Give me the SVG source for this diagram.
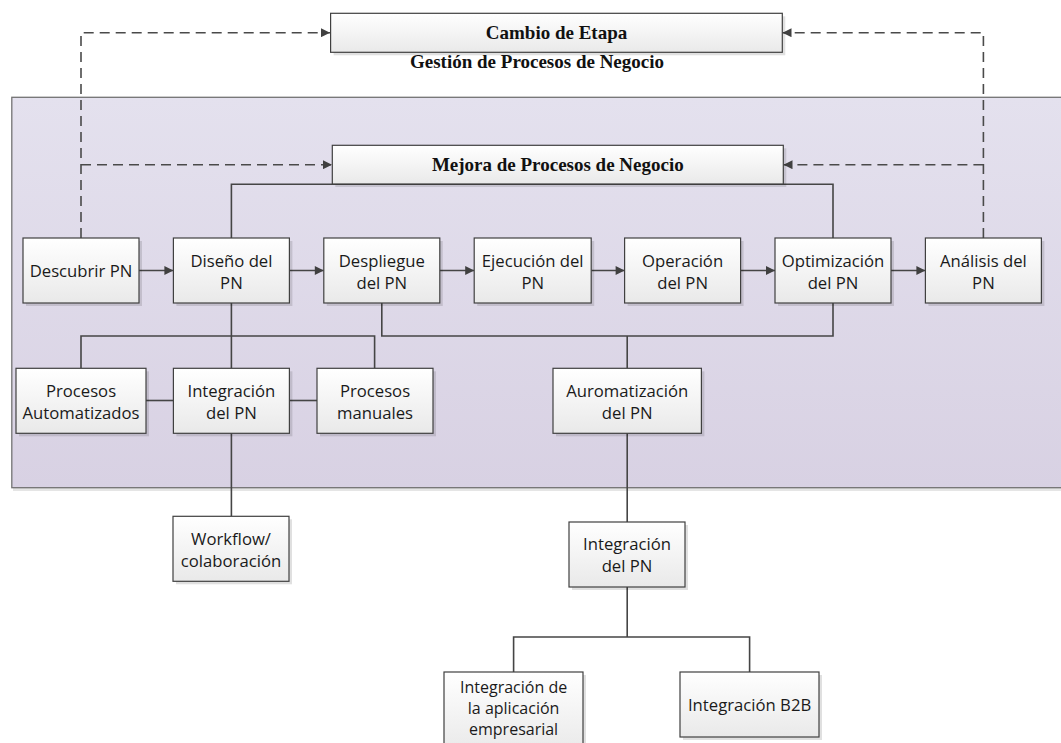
<svg xmlns="http://www.w3.org/2000/svg" width="1061" height="743" viewBox="0 0 1061 743">
  <style>
    .box { fill: url(#boxFill); stroke: #404040; stroke-width: 1.2; }
    .shadow { fill: #000000; fill-opacity: 0.12; }
    .lbl { font-family: "Open Sans", "Liberation Sans", sans-serif; font-size: 16.7px; fill: #1a1a1a; text-anchor: middle; }
    .lbl3 { font-size: 16px; }
    .title { font-family: "Liberation Serif", "Times New Roman", serif; font-size: 19px; font-weight: bold; fill: #111111; text-anchor: middle; }
    .link { fill: none; stroke: #454545; stroke-width: 1.6; }
    .dash { fill: none; stroke: #4a4a4a; stroke-width: 1.6; stroke-dasharray: 10 6; }
  </style>
  <defs>
    <linearGradient id="boxFill" x1="0" y1="0" x2="0" y2="1">
      <stop offset="0" stop-color="#ffffff"/>
      <stop offset="1" stop-color="#e9e9e9"/>
    </linearGradient>
    <linearGradient id="panelFill" x1="0" y1="0" x2="0" y2="1">
      <stop offset="0" stop-color="#e4e1ee"/>
      <stop offset="1" stop-color="#d8d1e3"/>
    </linearGradient>
    <marker id="arrow" viewBox="0 0 10 10" refX="10" refY="5" markerWidth="10" markerHeight="9" markerUnits="userSpaceOnUse" orient="auto">
      <path d="M0,0 L10,5 L0,10 Z" fill="#404040"/>
    </marker>
  </defs>

  <!-- background -->
  <rect x="0" y="0" width="1061" height="743" fill="#ffffff"/>

  <!-- business process management panel -->
  <g id="panel">
    <rect x="13" y="100" width="1060" height="391" fill="#000000" fill-opacity="0.1"/>
    <rect x="11.8" y="97.3" width="1060" height="390.4" fill="url(#panelFill)" stroke="#737373" stroke-width="1.3"/>
  </g>

  <!-- connectors -->
  <g id="connectors">
    <!-- stage change / improvement feedback (dashed) -->
    <path class="dash" d="M81,238 V32.7 H330" marker-end="url(#arrow)"/>
    <path class="dash" d="M81,164.7 H332" marker-end="url(#arrow)"/>
    <path class="dash" d="M983.4,238 V32.7 H782.5" marker-end="url(#arrow)"/>
    <path class="dash" d="M983.4,164.7 H783.5" marker-end="url(#arrow)"/>

    <!-- design / optimisation frame -->
    <path class="link" d="M231.4,238 V184.3 H833 V238"/>

    <!-- main flow -->
    <path class="link" d="M139,270.5 H173.4" marker-end="url(#arrow)"/>
    <path class="link" d="M289.4,270.5 H323.8" marker-end="url(#arrow)"/>
    <path class="link" d="M439.8,270.5 H474.2" marker-end="url(#arrow)"/>
    <path class="link" d="M591.2,270.5 H624.6" marker-end="url(#arrow)"/>
    <path class="link" d="M740.6,270.5 H775" marker-end="url(#arrow)"/>
    <path class="link" d="M891,270.5 H925.4" marker-end="url(#arrow)"/>

    <!-- design branch -->
    <path class="link" d="M231.4,303 V368"/>
    <path class="link" d="M81,368 V336 H374.6 V368"/>
    <path class="link" d="M146,400.5 H173.4"/>
    <path class="link" d="M289.4,400.5 H317"/>
    <path class="link" d="M231.4,433 V516"/>

    <!-- deployment / optimisation branch -->
    <path class="link" d="M381.8,303 V336 H833 V303"/>
    <path class="link" d="M627.2,336 V368"/>
    <path class="link" d="M627.2,433 V522"/>
    <path class="link" d="M627.2,587 V637"/>
    <path class="link" d="M513.6,672 V637 H749.6 V672"/>
  </g>

  <!-- top headers -->
  <g id="cambio-etapa">
    <rect class="shadow" x="333.6" y="16.3" width="451.7" height="39"/>
    <rect class="box" x="330.6" y="13.3" width="451.7" height="39"/>
    <text class="title" x="556.5" y="39">Cambio de Etapa</text>
  </g>
  <g id="gestion-label">
    <text class="title" x="537" y="68">Gestión de Procesos de Negocio</text>
  </g>
  <g id="mejora">
    <rect class="shadow" x="335.3" y="148.3" width="451" height="38.7"/>
    <rect class="box" x="332.3" y="145.3" width="451" height="38.7"/>
    <text class="title" x="557.8" y="171">Mejora de Procesos de Negocio</text>
  </g>

  <!-- main lifecycle row -->
  <g id="descubrir">
    <rect class="shadow" x="26" y="241" width="116" height="65"/>
    <rect class="box" x="23" y="238" width="116" height="65"/>
    <text class="lbl" x="81" y="277">Descubrir PN</text>
  </g>
  <g id="diseno">
    <rect class="shadow" x="176.4" y="241" width="116" height="65"/>
    <rect class="box" x="173.4" y="238" width="116" height="65"/>
    <text class="lbl" x="231.4" y="266.5">Diseño del</text>
    <text class="lbl" x="231.4" y="288.5">PN</text>
  </g>
  <g id="despliegue">
    <rect class="shadow" x="326.8" y="241" width="116" height="65"/>
    <rect class="box" x="323.8" y="238" width="116" height="65"/>
    <text class="lbl" x="381.8" y="266.5">Despliegue</text>
    <text class="lbl" x="381.8" y="288.5">del PN</text>
  </g>
  <g id="ejecucion">
    <rect class="shadow" x="477.2" y="241" width="117" height="65"/>
    <rect class="box" x="474.2" y="238" width="117" height="65"/>
    <text class="lbl" x="532.7" y="266.5">Ejecución del</text>
    <text class="lbl" x="532.7" y="288.5">PN</text>
  </g>
  <g id="operacion">
    <rect class="shadow" x="627.6" y="241" width="116" height="65"/>
    <rect class="box" x="624.6" y="238" width="116" height="65"/>
    <text class="lbl" x="682.6" y="266.5">Operación</text>
    <text class="lbl" x="682.6" y="288.5">del PN</text>
  </g>
  <g id="optimizacion">
    <rect class="shadow" x="778" y="241" width="116" height="65"/>
    <rect class="box" x="775" y="238" width="116" height="65"/>
    <text class="lbl" x="833" y="266.5">Optimización</text>
    <text class="lbl" x="833" y="288.5">del PN</text>
  </g>
  <g id="analisis">
    <rect class="shadow" x="928.4" y="241" width="116" height="65"/>
    <rect class="box" x="925.4" y="238" width="116" height="65"/>
    <text class="lbl" x="983.4" y="266.5">Análisis del</text>
    <text class="lbl" x="983.4" y="288.5">PN</text>
  </g>

  <!-- second row -->
  <g id="procesos-automatizados">
    <rect class="shadow" x="19" y="371.3" width="130" height="65"/>
    <rect class="box" x="16" y="368.3" width="130" height="65"/>
    <text class="lbl" x="81" y="396.5">Procesos</text>
    <text class="lbl" x="81" y="418.5">Automatizados</text>
  </g>
  <g id="integracion-pn-1">
    <rect class="shadow" x="176.4" y="371.3" width="116" height="65"/>
    <rect class="box" x="173.4" y="368.3" width="116" height="65"/>
    <text class="lbl" x="231.4" y="396.5">Integración</text>
    <text class="lbl" x="231.4" y="418.5">del PN</text>
  </g>
  <g id="procesos-manuales">
    <rect class="shadow" x="320" y="371.3" width="116" height="65"/>
    <rect class="box" x="317" y="368.3" width="116" height="65"/>
    <text class="lbl" x="375" y="396.5">Procesos</text>
    <text class="lbl" x="375" y="418.5">manuales</text>
  </g>
  <g id="automatizacion">
    <rect class="shadow" x="556" y="371.3" width="148.4" height="65"/>
    <rect class="box" x="553" y="368.3" width="148.4" height="65"/>
    <text class="lbl" x="627.2" y="396.5">Auromatización</text>
    <text class="lbl" x="627.2" y="418.5">del PN</text>
  </g>

  <!-- lower nodes -->
  <g id="workflow">
    <rect class="shadow" x="176" y="519.3" width="116" height="65"/>
    <rect class="box" x="173" y="516.3" width="116" height="65"/>
    <text class="lbl" x="231" y="544.5">Workflow/</text>
    <text class="lbl" x="231" y="566.5">colaboración</text>
  </g>
  <g id="integracion-pn-2">
    <rect class="shadow" x="572" y="525" width="116" height="65"/>
    <rect class="box" x="569" y="522" width="116" height="65"/>
    <text class="lbl" x="627" y="550">Integración</text>
    <text class="lbl" x="627" y="572">del PN</text>
  </g>
  <g id="integracion-aplicacion">
    <rect class="shadow" x="447" y="675" width="139" height="80"/>
    <rect class="box" x="444" y="672" width="139" height="80"/>
    <text class="lbl lbl3" x="513.6" y="693">Integración de</text>
    <text class="lbl lbl3" x="513.6" y="714">la aplicación</text>
    <text class="lbl lbl3" x="513.6" y="735">empresarial</text>
  </g>
  <g id="integracion-b2b">
    <rect class="shadow" x="683" y="675" width="139" height="65"/>
    <rect class="box" x="680" y="672" width="139" height="65"/>
    <text class="lbl" x="749.6" y="711">Integración B2B</text>
  </g>
</svg>
